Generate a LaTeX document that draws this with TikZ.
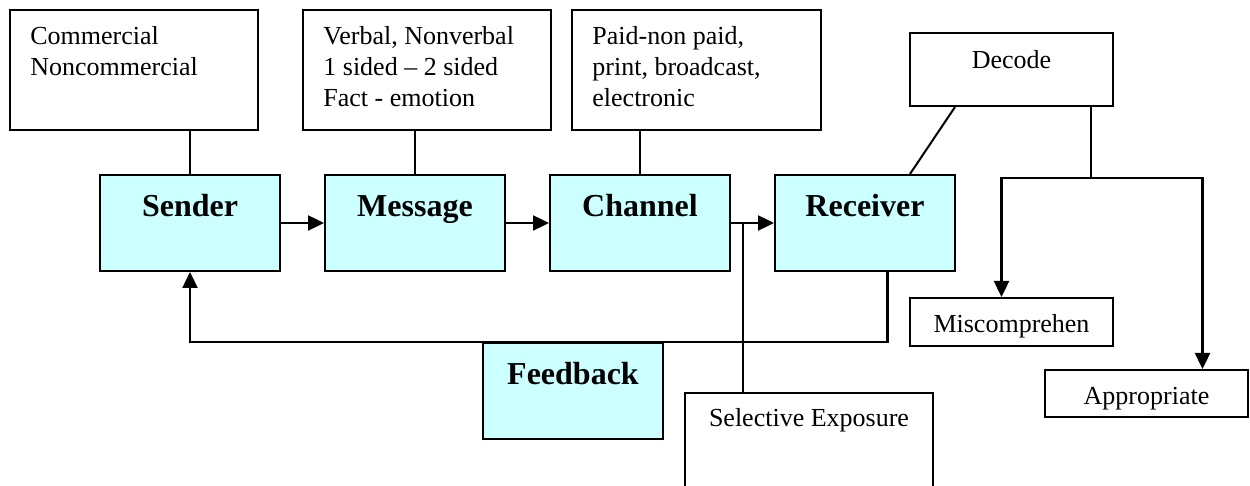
\documentclass[tikz,border=0pt]{standalone}
\usepackage{fontspec}
\setmainfont{Liberation Serif}
\usetikzlibrary{arrows.meta, positioning, calc}
\definecolor{stagecyan}{RGB}{204,255,255}
\tikzset{
  infobox/.style={
    draw, line width=1pt, fill=white, inner sep=0pt
  },
  infotext/.style={
    anchor=north west, inner sep=0pt, align=left,
    font=\fontsize{13}{15.5}\selectfont
  },
  smallbox/.style={
    draw, line width=1pt, fill=white, minimum width=101.5pt,
    font=\fontsize{13}{15.5}\selectfont, text height=10.8pt, text depth=0pt
  },
  stagebox/.style={
    draw, line width=1pt, fill=stagecyan,
    minimum width=90pt, minimum height=48pt,
    font=\fontsize{16}{19}\selectfont\bfseries,
    text height=11pt, text depth=17pt
  },
  linkline/.style={line width=1pt},
  flowarrow/.style={
    -{Triangle[length=8pt,width=7.5pt]}, line width=1.2pt
  },
}

\begin{document}
\begin{tikzpicture}[x=0.5pt, y=-0.5pt, node distance=21.5pt]
  \clip (0,0) rectangle (1250,486);

  \node[stagebox] (sender) at (190,223) {Sender};
  \node[stagebox, right=of sender] (message) {Message};
  \node[stagebox, right=of message] (channel) {Channel};
  \node[stagebox, right=of channel] (receiver) {Receiver};
  \node[stagebox] (feedback) at (573,391) {Feedback};

  \node[infobox, minimum width=124pt, minimum height=60pt] (sendinfo) at (134,70) {};
  \node[infobox, minimum width=124pt, minimum height=60pt] (msginfo) at (427,70) {};
  \node[infobox, minimum width=124.5pt, minimum height=60pt] (chaninfo) at (696.5,70) {};
  \node[infotext] (sendtext) at ([xshift=10.5pt,yshift=-8.6pt]sendinfo.north west) {Commercial\\Noncommercial};
  \node[infotext] (msgtext) at ([xshift=10.5pt,yshift=-8.6pt]msginfo.north west) {Verbal, Nonverbal\\1 sided -- 2 sided\\Fact - emotion};
  \node[infotext] (chantext) at ([xshift=10.5pt,yshift=-8.6pt]chaninfo.north west) {Paid-non paid,\\print, broadcast,\\electronic};

  \node[smallbox, minimum height=36.5pt, text depth=11.3pt] (decode) at (1011.5,69.5) {Decode};
  \node[smallbox, minimum height=24pt] (miscomp) at (1011.5,322) {Miscomprehen};
  \node[smallbox, minimum height=23.5pt] (approp) at (1146.5,393.5) {Appropriate};
  \node[smallbox, minimum width=124pt, minimum height=48pt, text depth=24.8pt] (selexp) at (809,441) {Selective Exposure};

  \draw[linkline] (sendinfo.south -| sender.north) -- (sender.north);
  \draw[linkline] (msginfo.south -| message.north) -- (message.north);
  \draw[linkline] (chaninfo.south -| channel.north) -- (channel.north);
  \draw[linkline] ([xshift=-23pt]receiver.north east) -- ([xshift=23pt]decode.south west);

  \draw[flowarrow] (sender) -- (message);
  \draw[flowarrow] (message) -- (channel);
  \draw[flowarrow] (channel) -- (receiver);
  \draw[flowarrow] ([xshift=11.25pt]receiver.south) |- (feedback.north) -| (sender.south);

  \coordinate (tap) at (743,223);
  \draw[linkline] (tap) -- (tap |- selexp.north);

  \coordinate (split) at (1091,178);
  \draw[linkline] (split |- decode.south) -- (split);
  \draw[flowarrow] (split) -| ([xshift=-5pt]miscomp.north);
  \draw[flowarrow] (split) -| ([xshift=28pt]approp.north);
\end{tikzpicture}
\end{document}
